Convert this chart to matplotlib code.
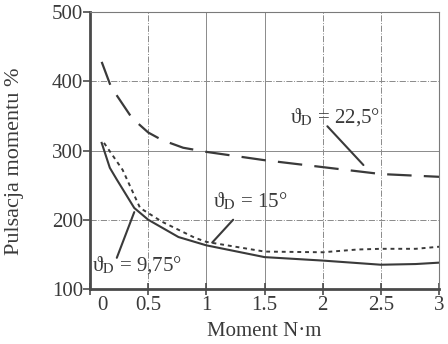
import matplotlib
matplotlib.use("Agg")
import matplotlib.pyplot as plt
import matplotlib.transforms as mtransforms

plt.rcParams['font.family'] = ['Liberation Serif', 'DejaVu Serif']
plt.rcParams['mathtext.fontset'] = 'stix'

# Torque ripple vs. load torque for three skew angles
x_225 = [0.10, 0.18, 0.36, 0.50, 0.62, 0.80, 1.00, 1.50, 2.00, 2.50, 3.00]
y_225 = [428, 392, 347, 326, 315, 304, 298, 286, 276, 266, 262]

x_15 = [0.12, 0.28, 0.43, 0.62, 0.90, 1.00, 1.50, 2.00, 2.30, 2.50, 2.80, 3.00]
y_15 = [311, 272, 217, 197, 174, 168, 154, 153, 157, 158, 158, 161]

x_975 = [0.10, 0.17, 0.23, 0.38, 0.50, 0.76, 1.00, 1.50, 2.00, 2.50, 2.80, 3.00]
y_975 = [311, 275, 258, 217, 200, 175, 163, 146, 141, 135, 136, 138]

x_ticks = [0, 0.5, 1, 1.5, 2, 2.5, 3]
x_tick_labels = ['0', '0.5', '1', '1.5', '2', '2.5', '3']
y_ticks = [100, 200, 300, 400, 500]

labels = ['ϑ$_{\\mathrm{D}}$ = 22,5°', 'ϑ$_{\\mathrm{D}}$ = 15°', 'ϑ$_{\\mathrm{D}}$ = 9,75°']

fig = plt.figure(figsize=(4.48, 3.44), dpi=100)
ax = fig.add_axes([0.201, 0.160, 0.779, 0.805])

ink = '#3a3a3a'
ax.plot(x_225, y_225, color=ink, lw=1.6, dashes=(11, 5.5))
ax.plot(x_15, y_15, color=ink, lw=1.4, dashes=(2, 2))
ax.plot(x_975, y_975, color=ink, lw=1.5)

ax.set_xlim(0, 3)
ax.set_ylim(100, 500)
ax.set_xticks(x_ticks)
ax.set_xticklabels(x_tick_labels)
ax.set_yticks(y_ticks)

# grid: mix of solid and dash-dot thin lines
for xv, ls in [(0.5, '-.'), (1, '-'), (1.5, '-'), (2, '-.'), (2.5, '-.')]:
    ax.axvline(xv, color='#8a8a8a', lw=0.7, ls=ls, zorder=0)
for yv, ls in [(200, '-.'), (300, '-'), (400, '-.')]:
    ax.axhline(yv, color='#8a8a8a', lw=0.7, ls=ls, zorder=0)

for side in ['left', 'bottom']:
    ax.spines[side].set_linewidth(2.0)
    ax.spines[side].set_color('#4a4a4a')
for side in ['right', 'top']:
    ax.spines[side].set_linewidth(0.8)
    ax.spines[side].set_color('#7a7a7a')

ax.tick_params(axis='x', direction='inout', length=8, width=1.2, color='#4a4a4a',
               labelsize=15, labelcolor=ink, pad=1)
ax.tick_params(axis='y', direction='out', length=5, width=1.2, color='#4a4a4a',
               labelsize=15, labelcolor=ink, pad=0)

# nudge the first x label right of the axis line
lbl0 = ax.get_xticklabels()[0]
lbl0.set_transform(lbl0.get_transform() +
                   mtransforms.ScaledTranslation(12 / 100, 0, fig.dpi_scale_trans))

ax.set_xlabel('Moment N·m', fontsize=15, color=ink, labelpad=5)
ax.set_ylabel('Pulsacja momentu %', fontsize=16, color=ink)
ax.yaxis.set_label_coords(-0.19, 0.462)

# curve labels with leader lines
line_kw = dict(arrowprops=dict(arrowstyle='-', color=ink, lw=1.5, shrinkA=0, shrinkB=0))
ax.annotate('', xy=(2.35, 279), xytext=(2.04, 335), **line_kw)
ax.annotate('', xy=(1.05, 167), xytext=(1.23, 200), **line_kw)
ax.annotate('', xy=(0.38, 211), xytext=(0.23, 145), **line_kw)

txt_kw = dict(fontsize=15, color=ink, ha='left', va='center')
ax.text(1.72, 348, labels[0], **txt_kw)
ax.text(1.06, 226, labels[1], **txt_kw)
ax.text(0.02, 135, labels[2], **txt_kw)

fig.savefig('out.png', dpi=100)
